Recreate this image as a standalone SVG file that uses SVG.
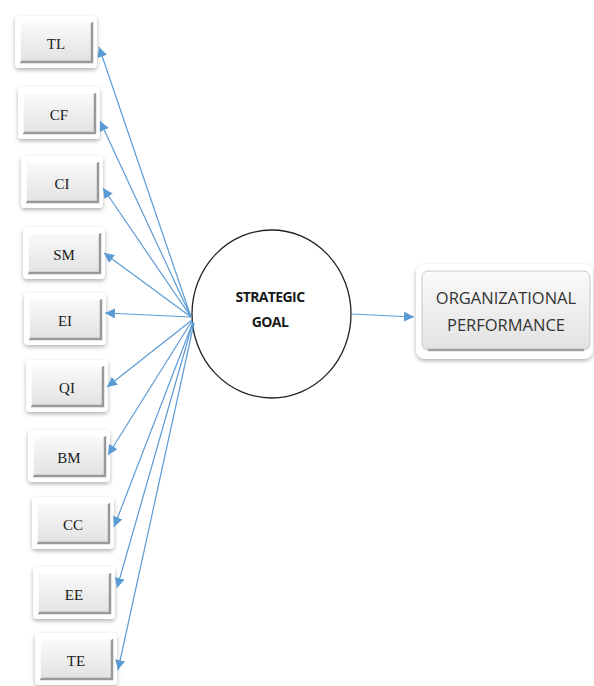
<svg xmlns="http://www.w3.org/2000/svg" width="594" height="686" viewBox="0 0 594 686">
<defs>
<filter id="sh" x="-20%" y="-20%" width="140%" height="150%">
<feDropShadow dx="0" dy="2" stdDeviation="2" flood-color="#000" flood-opacity="0.3"/>
</filter>
<linearGradient id="bev" x1="0" y1="0" x2="0" y2="1">
<stop offset="0" stop-color="#fafafa"/>
<stop offset="1" stop-color="#e2e2e2"/>
</linearGradient>
<marker id="ah" viewBox="0 0 10 10" refX="10" refY="5" markerWidth="10" markerHeight="10" markerUnits="userSpaceOnUse" orient="auto">
<path d="M0,0 L10,5 L0,10 z" fill="#5b9bd5"/>
</marker>
<symbol id="btn" overflow="visible">
<rect x="0" y="0" width="82" height="52" rx="4" fill="#fff" filter="url(#sh)"/>
<rect x="5" y="6" width="72" height="40" fill="url(#bev)"/>
<path d="M5,46 L77,46 L77,6" fill="none" stroke="#999" stroke-width="2.5"/>
<path d="M5,46 L5,6 L77,6" fill="none" stroke="#ffffff" stroke-width="1.5"/>
</symbol>
</defs>
<style>
.lbl{font-family:"Liberation Serif",serif;font-size:15px;fill:#1a1a1a;text-anchor:middle}
.conn{stroke:#5b9bd5;stroke-width:1.2;fill:none;marker-end:url(#ah)}
.cir{font-family:"Open Sans","Liberation Sans",sans-serif;font-size:14px;font-weight:bold;fill:#1a1a1a;text-anchor:middle;letter-spacing:-0.6px}
.org{font-family:"Open Sans","Liberation Sans",sans-serif;font-size:16.5px;fill:#333;text-anchor:middle}
</style>
<rect width="594" height="686" fill="#fff"/>
<g id="TL"><use href="#btn" x="15" y="16"/><text class="lbl" x="56" y="49">TL</text></g>
<g id="CF"><use href="#btn" x="18" y="87"/><text class="lbl" x="59" y="120">CF</text></g>
<g id="CI"><use href="#btn" x="21" y="156"/><text class="lbl" x="62" y="189">CI</text></g>
<g id="SM"><use href="#btn" x="23" y="227"/><text class="lbl" x="64" y="260">SM</text></g>
<g id="EI"><use href="#btn" x="24" y="293"/><text class="lbl" x="65" y="326">EI</text></g>
<g id="QI"><use href="#btn" x="26" y="360"/><text class="lbl" x="67" y="393">QI</text></g>
<g id="BM"><use href="#btn" x="28" y="430"/><text class="lbl" x="69" y="463">BM</text></g>
<g id="CC"><use href="#btn" x="32" y="497"/><text class="lbl" x="73" y="530">CC</text></g>
<g id="EE"><use href="#btn" x="33" y="567"/><text class="lbl" x="74" y="600">EE</text></g>
<g id="TE"><use href="#btn" x="35" y="633"/><text class="lbl" x="76" y="666">TE</text></g>
<g id="goal">
<ellipse cx="271.5" cy="314" rx="79.5" ry="84" fill="#fff" stroke="#222" stroke-width="1.3"/>
<text class="cir" x="270" y="302">STRATEGIC</text>
<text class="cir" x="270" y="327">GOAL</text>
</g>
<g id="perf">
<rect x="416" y="264" width="177" height="95" rx="9" fill="#fff" filter="url(#sh)"/>
<rect x="422" y="271" width="168" height="79" rx="6" fill="url(#bev)" stroke="#c8c8c8" stroke-width="1"/>
<path d="M428,350 L584,350" stroke="#a0a0a0" stroke-width="2.5"/>
<text class="org" x="506" y="304">ORGANIZATIONAL</text>
<text class="org" x="506" y="331">PERFORMANCE</text>
</g>
<g id="connectors">
<line class="conn" x1="191" y1="317" x2="99" y2="47"/>
<line class="conn" x1="191" y1="317" x2="100" y2="121"/>
<line class="conn" x1="191" y1="317" x2="103" y2="188"/>
<line class="conn" x1="191" y1="317" x2="104" y2="253"/>
<line class="conn" x1="191" y1="317" x2="105" y2="313"/>
<line class="conn" x1="192" y1="320" x2="107" y2="387"/>
<line class="conn" x1="192" y1="321" x2="108" y2="455"/>
<line class="conn" x1="193" y1="322" x2="114" y2="527"/>
<line class="conn" x1="193" y1="322" x2="117" y2="588"/>
<line class="conn" x1="194" y1="323" x2="118" y2="670"/>
<line class="conn" x1="351" y1="314" x2="414" y2="317"/>
</g>
</svg>
